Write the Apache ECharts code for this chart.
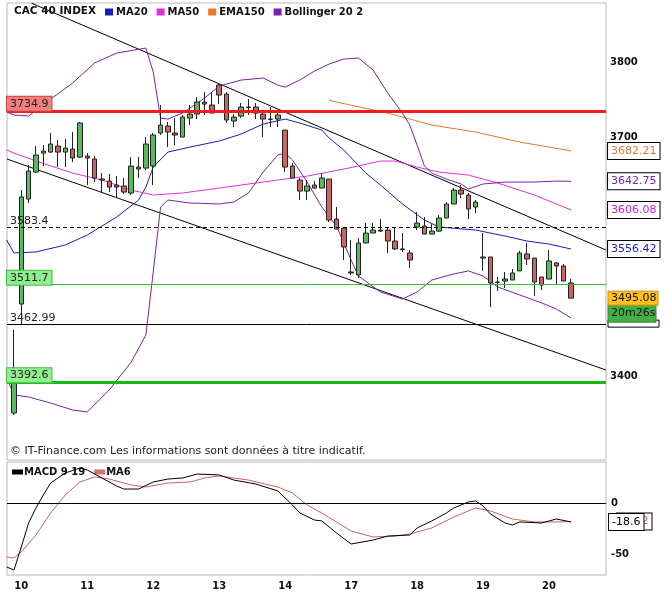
<!DOCTYPE html>
<html>
<head>
<meta charset="utf-8">
<title>CAC 40 INDEX</title>
<script src="https://cdn.jsdelivr.net/npm/echarts@6/dist/echarts.min.js"></script>
<style>
  html, body { margin: 0; padding: 0; background: #fff; }
  #chart { width: 672px; height: 603px; }
</style>
</head>
<body>
<div id="chart"></div>
<script>
const FONT = 'DejaVu Sans';

// hourly candles, index 0 = last bar of the previous session
const opens = [3355.7, 3487.8, 3620.0, 3654.7, 3679.4, 3680.7, 3688.5, 3680.7, 3684.6, 3674.2,
  3675.5, 3671.6, 3645.7, 3643.1, 3638.0, 3636.7, 3627.7, 3661.2, 3659.9, 3662.5,
  3705.6, 3714.8, 3705.6, 3700.3, 3725.3, 3730.6, 3746.5, 3742.5, 3769.1, 3757.1,
  3721.4, 3727.9, 3739.9, 3739.9, 3730.6, 3724.0, 3724.0, 3709.5, 3662.5, 3644.4,
  3630.2, 3638.0, 3634.1, 3645.7, 3594.4, 3582.9, 3527.6, 3523.9, 3564.0, 3576.6,
  3580.4, 3580.4, 3566.5, 3556.5, 3551.4, 3584.2, 3585.5, 3575.3, 3579.1, 3595.7,
  3613.6, 3631.5, 3625.1, 3609.7, 3545.1, 3546.4, 3515.1, 3516.3, 3517.6, 3528.9,
  3550.2, 3545.1, 3521.3, 3518.8, 3538.9, 3535.1, 3513.9];
const closes = [3392.6, 3622.5, 3656.0, 3676.8, 3682.0, 3691.2, 3680.7, 3685.9, 3672.9, 3718.8,
  3672.9, 3646.9, 3644.4, 3635.4, 3635.4, 3628.9, 3662.5, 3658.6, 3691.2, 3703.0,
  3716.1, 3706.9, 3703.0, 3726.6, 3730.6, 3746.5, 3743.8, 3731.9, 3755.8, 3722.7,
  3726.6, 3739.9, 3739.2, 3731.9, 3724.0, 3723.6, 3729.3, 3661.2, 3647.0, 3630.2,
  3636.7, 3634.1, 3647.0, 3593.1, 3581.7, 3559.0, 3526.4, 3564.0, 3576.6, 3580.4,
  3579.1, 3566.5, 3556.5, 3555.8, 3542.6, 3589.3, 3575.3, 3579.1, 3595.7, 3613.6,
  3631.5, 3626.4, 3607.2, 3616.1, 3546.4, 3513.9, 3514.5, 3518.8, 3526.4, 3551.4,
  3543.9, 3515.1, 3511.4, 3541.4, 3535.1, 3516.3, 3495.08];
const lows = [3353.4, 3463.0, 3614.9, 3653.4, 3662.5, 3679.4, 3661.2, 3661.2, 3667.7, 3672.9,
  3638.0, 3641.8, 3628.9, 3628.9, 3621.3, 3626.4, 3625.1, 3647.0, 3657.3, 3638.0,
  3703.0, 3687.2, 3689.9, 3700.3, 3716.1, 3724.0, 3729.3, 3731.9, 3743.8, 3718.8,
  3713.5, 3725.3, 3729.3, 3724.0, 3700.3, 3713.5, 3713.5, 3654.7, 3647.0, 3618.7,
  3618.7, 3632.8, 3634.1, 3590.5, 3581.7, 3542.6, 3523.9, 3520.1, 3564.0, 3576.6,
  3577.9, 3551.4, 3555.2, 3552.7, 3532.6, 3580.4, 3575.3, 3575.3, 3577.9, 3595.7,
  3613.6, 3621.3, 3594.4, 3602.1, 3528.9, 3484.1, 3503.9, 3507.7, 3517.6, 3528.9,
  3536.3, 3497.8, 3505.2, 3518.8, 3511.4, 3516.3, 3495.08];
const highs = [3455.9, 3631.5, 3663.8, 3688.5, 3689.9, 3705.6, 3696.4, 3697.7, 3706.9, 3720.1,
  3679.4, 3675.5, 3653.4, 3652.1, 3649.5, 3647.0, 3674.2, 3674.2, 3700.3, 3705.6,
  3742.5, 3720.1, 3725.3, 3729.3, 3742.5, 3753.1, 3759.7, 3759.7, 3771.8, 3759.7,
  3730.6, 3745.2, 3750.4, 3745.2, 3735.9, 3739.9, 3735.9, 3709.5, 3666.4, 3647.0,
  3644.4, 3643.1, 3653.4, 3645.7, 3609.7, 3582.9, 3567.8, 3570.3, 3589.3, 3589.3,
  3594.4, 3582.9, 3584.2, 3576.6, 3555.2, 3603.3, 3596.9, 3588.0, 3599.5, 3616.1,
  3634.1, 3638.0, 3627.7, 3618.7, 3576.6, 3546.4, 3521.3, 3527.6, 3531.4, 3553.9,
  3564.0, 3545.1, 3521.3, 3555.2, 3540.1, 3537.6, 3518.8];

// x-axis days: label text and the bar index where each day starts
const dayLabels = ['10', '11', '12', '13', '14', '17', '18', '19', '20'];
const dayStart = [1, 10, 19, 28, 37, 46, 55, 64, 73];

// indicators as [bar index, value]
const ma20 = [[-1, 3567.8], [0, 3551.4], [3, 3552.7], [7, 3561.5], [10, 3574.1], [14, 3596.9],
  [17, 3618.7], [18, 3635.4], [19, 3661.2], [21, 3680.7], [24, 3687.2], [28, 3695.1],
  [31, 3704.3], [34, 3717.4], [37, 3724.0], [39, 3718.8], [42, 3709.5], [43, 3699.0],
  [45, 3683.3], [48, 3653.4], [50, 3638.0], [53, 3613.6], [56, 3593.1], [58, 3584.2],
  [63, 3580.4], [67, 3572.8], [70, 3566.5], [73, 3562.7], [76, 3556.42]];
const ma50 = [[-1, 3683.3], [0, 3679.4], [3, 3669.0], [8, 3653.4], [12, 3644.4], [16, 3631.5],
  [19, 3625.1], [23, 3627.7], [27, 3632.8], [31, 3638.0], [36, 3644.4], [40, 3649.5],
  [45, 3658.6], [50, 3669.0], [52, 3669.0], [55, 3661.2], [58, 3654.7], [62, 3650.8],
  [66, 3640.5], [71, 3625.1], [73, 3617.4], [76, 3606.08]];
const ema150 = [[43, 3749.1], [44, 3746.5], [51, 3731.9], [57, 3716.1], [63, 3706.9],
  [69, 3693.8], [76, 3682.21]];
const bollUp = [[-1, 3733.3], [0, 3729.3], [2, 3728.0], [5, 3750.4], [8, 3771.8], [11, 3798.7],
  [14, 3812.1], [18, 3818.8], [19, 3786.5], [20, 3725.3], [21, 3724.0], [23, 3731.9],
  [26, 3751.8], [28, 3767.8], [31, 3775.8], [34, 3778.5], [36, 3769.1], [37, 3766.4],
  [39, 3775.8], [41, 3787.9], [43, 3797.3], [45, 3804.0], [47, 3805.4], [49, 3789.2],
  [51, 3758.4], [53, 3731.9], [54, 3716.1], [55, 3689.9], [56, 3662.5], [57, 3653.4],
  [59, 3645.7], [61, 3639.3], [62, 3632.8], [64, 3639.3], [67, 3641.8], [71, 3641.8],
  [74, 3643.1], [76, 3642.75]];
const bollDown = [[-1, 3397.6], [0, 3377.2], [2, 3374.8], [5, 3367.6], [8, 3359.3], [10, 3356.9],
  [13, 3383.2], [16, 3416.9], [18, 3449.8], [19, 3527.6], [20, 3609.7], [21, 3618.7],
  [24, 3614.9], [28, 3613.6], [30, 3616.1], [32, 3627.7], [34, 3654.7], [36, 3676.8],
  [37, 3679.4], [38, 3670.3], [40, 3641.8], [42, 3609.7], [44, 3585.5], [46, 3542.6],
  [47, 3522.6], [50, 3502.7], [53, 3494.0], [55, 3502.7], [57, 3517.6], [60, 3525.1],
  [62, 3528.9], [64, 3522.6], [66, 3508.9], [69, 3499.0], [72, 3489.1], [74, 3481.6],
  [76, 3470.6]];

// drawn trend lines (two ends each)
const trendUp = [[2.4, 3880], [80.77, 3555.2]];
const trendDown = [[-0.95, 3671.6], [80.77, 3407.2]];

// horizontal levels
const levels = [3734.9, 3583.4, 3511.7, 3462.99, 3392.6];

// MACD 9 19 and its MA6
const macd = [[-1, -62.7], [0, -65.7], [1, -43.1], [2, -19.6], [3, -4.9], [4, 7.8], [5, 19.6],
  [7, 29.4], [9, 34.3], [10, 32.4], [12, 24.5], [14, 16.7], [15, 13.7], [17, 13.7], [19, 20.6],
  [21, 23.5], [23, 24.5], [25, 28.4], [28, 27.5], [30, 22.5], [33, 18.6], [36, 11.8],
  [38, -2.0], [39, -9.8], [41, -16.7], [42, -17.6], [44, -29.4], [46, -40.2], [49, -36.3],
  [51, -32.4], [54, -31.4], [55, -24.5], [57, -17.6], [59, -9.8], [60, -4.9], [62, 1.0],
  [63, 2.0], [64, -2.9], [65, -10.8], [67, -19.6], [68, -21.6], [69, -18.6], [72, -19.6],
  [74, -15.7], [76, -18.6]];
const macdSignal = [[-1, -52.9], [0, -53.9], [1, -48.0], [3, -31.4], [5, -9.8], [7, 7.8],
  [9, 20.6], [11, 25.5], [13, 23.5], [16, 17.6], [18, 15.7], [21, 19.6], [24, 20.6],
  [26, 24.5], [28, 26.5], [32, 22.5], [36, 15.7], [38, 9.8], [40, -2.0], [42, -9.8],
  [44, -18.6], [46, -27.5], [49, -33.3], [52, -32.4], [54, -30.4], [57, -24.5], [60, -13.7],
  [63, -4.9], [65, -7.8], [68, -15.7], [71, -18.6], [74, -18.6], [76, -18.2]];

const chart = echarts.init(document.getElementById('chart'));

const candles = opens.map((o, i) => [i, o, closes[i], lows[i], highs[i]]);

function endBox(color, digits, dist) {
  return {
    show: true,
    distance: dist,
    formatter: p => p.value[1].toFixed(digits),
    color: color,
    backgroundColor: '#fff',
    borderColor: '#000',
    borderWidth: 1,
    padding: [3, 3, 2, 3],
    fontFamily: FONT,
    fontSize: 11
  };
}

function indicator(name, data, color, label) {
  return {
    name: name,
    type: 'line',
    data: data,
    xAxisIndex: 0,
    yAxisIndex: 0,
    symbol: 'none',
    silent: true,
    lineStyle: { color: color, width: 1 },
    itemStyle: { color: color },
    endLabel: label || { show: false },
    z: 3
  };
}

function trend(data) {
  return {
    type: 'line', data: data, symbol: 'none', silent: true,
    lineStyle: { color: '#000', width: 1 }, z: 2
  };
}

// looks of each level line, same order as levels
const levelLook = [
  { line: { color: '#ee1c1c', width: 3, type: 'solid' }, box: { backgroundColor: '#f08080', borderColor: '#d04040', borderWidth: 1 } },
  { line: { color: '#000', width: 1, type: [4, 3] }, box: null },
  { line: { color: '#33bb33', width: 1, type: 'solid' }, box: { backgroundColor: '#90ee90', borderColor: '#44bb44', borderWidth: 1 } },
  { line: { color: '#000', width: 1, type: 'solid' }, box: null },
  { line: { color: '#11bb11', width: 3, type: 'solid' }, box: { backgroundColor: '#90ee90', borderColor: '#44bb44', borderWidth: 1 } }
];

const levelLines = levels.map((v, i) => {
  const look = levelLook[i];
  const label = {
    show: true,
    position: 'insideStartTop',
    formatter: String(v),
    color: '#222',
    fontFamily: FONT,
    fontSize: 11
  };
  if (look.box) {
    Object.assign(label, look.box, { padding: [2, 3, 1, 3], distance: [0, 0] });
  } else {
    label.distance = [3, 1];
  }
  return { yAxis: v, lineStyle: look.line, label: label };
});

const option = {
  animation: false,
  backgroundColor: '#fff',
  textStyle: { fontFamily: FONT },
  grid: [
    { left: 7, top: 3, width: 599, height: 457, show: true, borderColor: '#b8b8b8', borderWidth: 1 },
    { left: 7, top: 462, width: 599, height: 113, show: true, borderColor: '#b8b8b8', borderWidth: 1 }
  ],
  legend: [
    {
      data: ['MA20', 'MA50', 'EMA150', 'Bollinger 20 2'],
      left: 105, top: 7, padding: 0, icon: 'rect', itemWidth: 8, itemHeight: 7, itemGap: 9,
      selectedMode: false,
      textStyle: { fontFamily: FONT, fontSize: 10, fontWeight: 'bold', color: '#111', padding: [0, 0, 0, -2] }
    },
    {
      data: ['MACD 9 19', 'MA6'],
      left: 12, top: 467, padding: 0, icon: 'rect', itemWidth: 11, itemHeight: 5, itemGap: 9,
      selectedMode: false,
      textStyle: { fontFamily: FONT, fontSize: 10, fontWeight: 'bold', color: '#111', padding: [0, 0, 0, -4] }
    }
  ],
  xAxis: [
    {
      type: 'value', gridIndex: 0, min: -0.95, max: 80.77,
      axisLine: { show: false }, axisTick: { show: false }, axisLabel: { show: false },
      splitLine: { show: false }
    },
    {
      type: 'value', gridIndex: 1, min: -0.95, max: 80.77,
      axisLine: { show: false }, axisTick: { show: false }, splitLine: { show: false },
      axisLabel: {
        customValues: dayStart,
        formatter: v => dayLabels[dayStart.indexOf(v)],
        fontFamily: FONT, fontSize: 10, fontWeight: 'bold', color: '#111', margin: 6
      }
    }
  ],
  yAxis: [
    {
      type: 'log', gridIndex: 0, position: 'right', min: 3300.3, max: 3880.3,
      axisLine: { show: false }, axisTick: { show: false }, splitLine: { show: false },
      axisLabel: {
        customValues: [3800, 3700, 3400],
        formatter: v => String(Math.round(v)),
        fontFamily: FONT, fontSize: 10, fontWeight: 'bold', color: '#111', margin: 4
      }
    },
    {
      type: 'value', gridIndex: 1, position: 'right', min: -70.6, max: 40.2,
      axisLine: { show: false }, axisTick: { show: false }, splitLine: { show: false },
      axisLabel: {
        customValues: [0, -50],
        formatter: v => String(v),
        fontFamily: FONT, fontSize: 10, fontWeight: 'bold', color: '#111', margin: 5
      }
    }
  ],
  series: [
    trend(trendUp),
    trend(trendDown),
    {
      name: 'CAC 40 INDEX',
      type: 'candlestick',
      data: candles,
      encode: { x: 0, y: [1, 2, 3, 4] },
      barWidth: 5,
      silent: true,
      z: 4,
      itemStyle: {
        color: '#5cb85c', color0: '#cd6464',
        borderColor: '#222', borderColor0: '#222', borderColorDoji: '#222', borderWidth: 1
      },
      markLine: {
        silent: true,
        symbol: ['none', 'none'],
        data: levelLines
      }
    },
    indicator('MA20', ma20, '#1c1cb4', endBox('#1c1cb4', 2, 37)),
    indicator('MA50', ma50, '#e030e0', endBox('#d020d0', 2, 37)),
    indicator('EMA150', ema150, '#e8782a', endBox('#e8782a', 2, 37)),
    indicator('Bollinger 20 2', bollUp, '#7b22a8', endBox('#7b22a8', 2, 37)),
    indicator('Bollinger 20 2', bollDown, '#7b22a8'),
    {
      name: 'MA6',
      type: 'line', xAxisIndex: 1, yAxisIndex: 1,
      data: macdSignal, symbol: 'none', silent: true,
      lineStyle: { color: '#c86464', width: 1 }, itemStyle: { color: '#d07070' },
      endLabel: endBox('#c86464', 1, 46),
      z: 3
    },
    {
      name: 'MACD 9 19',
      type: 'line', xAxisIndex: 1, yAxisIndex: 1,
      data: macd, symbol: 'none', silent: true,
      lineStyle: { color: '#000', width: 1 }, itemStyle: { color: '#000' },
      endLabel: endBox('#000', 1, 38),
      z: 4,
      markLine: {
        silent: true, symbol: ['none', 'none'], label: { show: false },
        lineStyle: { color: '#000', width: 1, type: 'solid' },
        data: [{ yAxis: 0 }]
      }
    }
  ]
};

chart.setOption(option);

// boxes for the last price and the countdown, placed from the price scale
const lastY = chart.convertToPixel({ yAxisIndex: 0 }, closes[closes.length - 1]);
chart.setOption({
  graphic: [
    {
      type: 'text', left: 14, top: 6,
      style: { text: 'CAC 40 INDEX', fontFamily: FONT, fontSize: 10.5, fontWeight: 'bold', fill: '#111' }
    },
    {
      type: 'text', left: 10, top: 446,
      style: { text: '© IT-Finance.com Les informations sont données à titre indicatif.', fontFamily: FONT, fontSize: 11, fill: '#222' }
    },
    {
      type: 'rect', shape: { x: 608, y: lastY + 22, width: 51, height: 7 },
      style: { fill: '#fff', stroke: '#000', lineWidth: 1 }
    },
    {
      type: 'rect', shape: { x: 608, y: lastY + 7, width: 48, height: 17 },
      style: { fill: '#44b044', stroke: '#2e8a2e', lineWidth: 1 }
    },
    {
      type: 'text', x: 611, y: lastY + 15.5,
      style: { text: '20m26s', fontFamily: FONT, fontSize: 11, fill: '#111', verticalAlign: 'middle' }
    },
    {
      type: 'rect', shape: { x: 608, y: lastY - 7, width: 50, height: 14 },
      style: { fill: '#ffc020', stroke: '#d09000', lineWidth: 1 }
    },
    {
      type: 'text', x: 611, y: lastY,
      style: { text: closes[closes.length - 1].toFixed(2), fontFamily: FONT, fontSize: 11, fill: '#111', verticalAlign: 'middle' }
    }
  ]
});
</script>
</body>
</html>
